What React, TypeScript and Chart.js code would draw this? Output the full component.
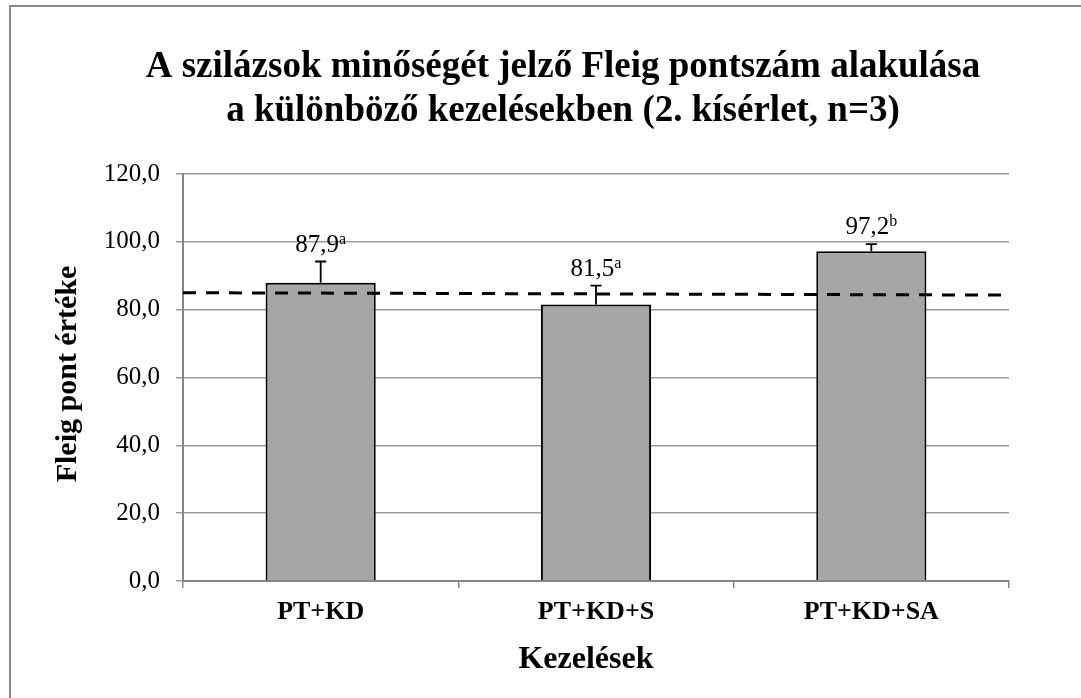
import React, { useEffect, useRef } from 'react';
import { Chart, registerables } from 'chart.js';

Chart.register(...registerables);

const categories = ['PT+KD', 'PT+KD+S', 'PT+KD+SA'];
const means = [87.9, 81.5, 97.2];
const errors = [6.3, 5.6, 2.1];
const letters = ['a', 'a', 'b'];
const yMin = 0;
const yMax = 120;
const yStep = 20;
const refX = [0, 3];
const refY = [85.0, 84.3];
const titleLines = [
  'A szilázsok minőségét jelző Fleig pontszám alakulása',
  'a különböző kezelésekben (2. kísérlet, n=3)',
];
const yTitle = 'Fleig pont értéke';
const xTitle = 'Kezelések';

const SERIF = "'Liberation Serif', 'Times New Roman', serif";
const fmt = (v: number) => v.toFixed(1).replace('.', ',');

const decorPlugin = {
  id: 'decor',
  afterDatasetDraw(chart: any, args: any) {
    if (args.index !== 1) return;
    const ctx = chart.ctx;
    const yScale = chart.scales.y;
    const meta = chart.getDatasetMeta(1);
    ctx.save();
    meta.data.forEach((el: any, i: number) => {
      const x = el.x;
      const yTop = yScale.getPixelForValue(means[i] + errors[i]);
      ctx.strokeStyle = '#000';
      ctx.lineWidth = 1.8;
      ctx.beginPath();
      ctx.moveTo(x, el.y);
      ctx.lineTo(x, yTop);
      ctx.moveTo(x - 5.5, yTop);
      ctx.lineTo(x + 5.5, yTop);
      ctx.stroke();
      const main = fmt(means[i]);
      ctx.font = `25px ${SERIF}`;
      const wMain = ctx.measureText(main).width;
      ctx.font = `16px ${SERIF}`;
      const wSup = ctx.measureText(letters[i]).width;
      const total = wMain + wSup;
      const startX = x - total / 2;
      const base = yTop - 10;
      ctx.fillStyle = '#000';
      ctx.textBaseline = 'alphabetic';
      ctx.textAlign = 'left';
      ctx.font = `25px ${SERIF}`;
      ctx.fillText(main, startX, base);
      ctx.font = `16px ${SERIF}`;
      ctx.fillText(letters[i], startX + wMain, base - 8);
    });
    ctx.restore();
  },
  afterDraw(chart: any) {
    const ctx = chart.ctx;
    ctx.save();
    ctx.fillStyle = '#000';
    ctx.textAlign = 'center';
    ctx.textBaseline = 'alphabetic';
    ctx.font = `bold 37px ${SERIF}`;
    ctx.fillText(titleLines[0], 563, 77);
    ctx.fillText(titleLines[1], 563, 121);
    ctx.font = `bold 32px ${SERIF}`;
    ctx.fillText(xTitle, 586, 668);
    ctx.translate(68, 374);
    ctx.rotate(-Math.PI / 2);
    ctx.textBaseline = 'middle';
    ctx.font = `bold 30px ${SERIF}`;
    ctx.fillText(yTitle, 0, 0);
    ctx.restore();
  },
};

export default function App() {
  const ref = useRef<HTMLCanvasElement>(null);
  useEffect(() => {
    if (!ref.current) return;
    const chart = new Chart(ref.current, {
      type: 'bar',
      data: {
        labels: categories,
        datasets: [
          {
            type: 'line',
            data: refX.map((x, i) => ({ x, y: refY[i] })),
            xAxisID: 'x2',
            yAxisID: 'y',
            borderColor: '#000',
            borderWidth: 3,
            borderDash: [13, 10],
            pointRadius: 0,
            fill: false,
            order: 0,
          } as any,
          {
            type: 'bar',
            data: means,
            xAxisID: 'x',
            yAxisID: 'y',
            backgroundColor: '#a6a6a6',
            borderColor: '#000',
            borderWidth: 2,
            barPercentage: 0.4,
            categoryPercentage: 1,
            grouped: false,
            order: 1,
          } as any,
        ],
      },
      options: {
        responsive: false,
        animation: false,
        layout: { padding: { top: 174, right: 72, bottom: 0, left: 0 } },
        plugins: {
          legend: { display: false },
          tooltip: { enabled: false },
          title: { display: false },
        },
        scales: {
          x: {
            type: 'category',
            position: 'bottom',
            grid: {
              offset: true,
              drawOnChartArea: false,
              tickLength: 7,
              color: '#868686',
              lineWidth: 1.5,
            },
            border: { color: '#868686', width: 2 },
            ticks: {
              color: '#000',
              font: { family: SERIF, size: 26, weight: 'bold' },
              padding: 9,
              maxRotation: 0,
            },
            afterFit: (s: any) => {
              s.height = 117;
            },
          },
          x2: {
            type: 'linear',
            display: false,
            offset: false,
            min: refX[0],
            max: refX[1],
          },
          y: {
            type: 'linear',
            min: yMin,
            max: yMax,
            ticks: {
              stepSize: yStep,
              color: '#000',
              font: { family: SERIF, size: 25 },
              padding: 16,
              callback: (v: any) => fmt(Number(v)),
            },
            grid: { color: '#9a9a9a', lineWidth: 1.5, tickLength: 7 },
            border: { color: '#868686', width: 2 },
            afterFit: (s: any) => {
              s.width = 183;
            },
          },
        },
      } as any,
      plugins: [decorPlugin],
    });
    return () => chart.destroy();
  }, []);

  return (
    <div
      style={{
        position: 'fixed',
        left: 0,
        top: 0,
        width: 1081,
        height: 698,
        overflow: 'hidden',
        background: '#fff',
      }}
    >
      <div
        style={{
          position: 'absolute',
          left: 9,
          top: 5,
          width: 1200,
          height: 800,
          borderLeft: '2px solid #8a8a8a',
          borderTop: '2px solid #8a8a8a',
          boxSizing: 'border-box',
        }}
      />
      <canvas
        ref={ref}
        width={1081}
        height={698}
        style={{ position: 'absolute', left: 0, top: 0 }}
      />
    </div>
  );
}
